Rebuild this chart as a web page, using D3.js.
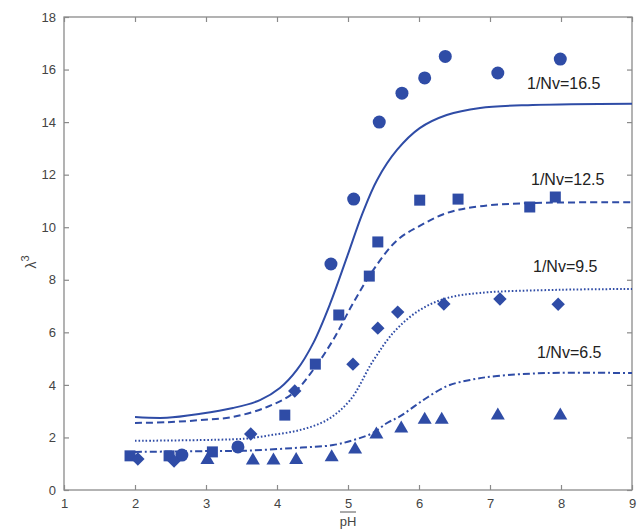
<!DOCTYPE html>
<html><head><meta charset="utf-8">
<script src="https://cdn.jsdelivr.net/npm/d3@7"></script>
<style>
body{margin:0;background:#fff;}
svg text{font-family:"Liberation Sans",Arial,sans-serif;}
</style></head>
<body><svg id="c" width="643" height="530"></svg>
<script>
// ---- data ----
const xTicks = [1,2,3,4,5,6,7,8,9];
const yTicks = [0,2,4,6,8,10,12,14,16,18];
const seriesLabels = ["1/Nv=16.5","1/Nv=12.5","1/Nv=9.5","1/Nv=6.5"];

const pts165 = [[2.66,1.33],[3.45,1.64],[4.76,8.6],[5.08,11.07],[5.44,14.0],[5.76,15.1],[6.08,15.68],[6.37,16.5],[7.11,15.87],[7.99,16.4]];
const pts125 = [[1.93,1.3],[2.48,1.3],[3.09,1.45],[4.11,2.85],[4.54,4.79],[4.87,6.66],[5.3,8.14],[5.42,9.44],[6.01,11.03],[6.55,11.07],[7.56,10.77],[7.92,11.15]];
const pts95  = [[2.04,1.18],[2.55,1.1],[3.63,2.13],[4.25,3.77],[5.07,4.79],[5.42,6.16],[5.7,6.77],[6.35,7.08],[7.14,7.27],[7.96,7.07]];
const pts65  = [[3.02,1.2],[3.66,1.18],[3.95,1.18],[4.27,1.2],[4.77,1.3],[5.1,1.6],[5.4,2.17],[5.75,2.4],[6.08,2.73],[6.32,2.73],[7.11,2.89],[7.99,2.89]];

const fit165 = [[2,2.78],[2.45,2.75],[2.92,2.9],[3.38,3.12],[3.76,3.42],[4.04,3.88],[4.28,4.57],[4.51,5.59],[4.75,7.1],[4.99,8.9],[5.2,10.5],[5.41,11.8],[5.69,12.94],[6.01,13.77],[6.39,14.27],[6.86,14.54],[7.6,14.65],[9,14.7]];
const fit125 = [[2,2.55],[2.45,2.58],[2.92,2.66],[3.38,2.78],[3.86,3.16],[4.23,3.69],[4.51,4.57],[4.79,5.71],[5.07,7.1],[5.35,8.35],[5.69,9.5],[6.01,10.05],[6.39,10.54],[6.86,10.8],[7.6,10.92],[9,10.95]];
const fit95  = [[2,1.87],[2.92,1.9],[3.38,1.93],[3.62,1.97],[3.94,2.1],[4.32,2.28],[4.7,2.66],[5.03,3.42],[5.35,4.9],[5.66,6.05],[6.01,6.85],[6.39,7.3],[6.86,7.5],[8,7.62],[9,7.65]];
const fit65  = [[2,1.45],[3,1.48],[3.6,1.5],[4.25,1.6],[4.79,1.71],[5.1,1.92],[5.35,2.17],[5.55,2.55],[5.73,2.8],[6.06,3.42],[6.39,3.95],[6.72,4.19],[7.1,4.34],[7.8,4.45],[9,4.45]];

// ---- layout ----
const col = "#2f4ca6";
const axisCol = "#8a8a8a";
const svg = d3.select("#c");
const L=64, R=632, T=17, B=490;
const x = d3.scaleLinear().domain([1,9]).range([L,R]);
const y = d3.scaleLinear().domain([0,18]).range([B,T]);

svg.append("rect").attr("x",L).attr("y",T).attr("width",R-L).attr("height",B-T)
  .attr("fill","none").attr("stroke",axisCol).attr("stroke-width",1.3);

const tl=5;
const gx = svg.append("g").attr("transform",`translate(0,${B})`)
  .call(d3.axisBottom(x).tickValues(xTicks).tickFormat(d3.format("d")).tickSizeInner(-tl).tickSizeOuter(0).tickPadding(9));
const gxt = svg.append("g").attr("transform",`translate(0,${T})`)
  .call(d3.axisTop(x).tickValues(xTicks).tickFormat("").tickSizeInner(-tl).tickSizeOuter(0));
const gy = svg.append("g").attr("transform",`translate(${L},0)`)
  .call(d3.axisLeft(y).tickValues(yTicks).tickFormat(d3.format("d")).tickSizeInner(-tl).tickSizeOuter(0).tickPadding(8));
const gyr = svg.append("g").attr("transform",`translate(${R},0)`)
  .call(d3.axisRight(y).tickValues(yTicks).tickFormat("").tickSizeInner(-tl).tickSizeOuter(0));
[gx,gxt,gy,gyr].forEach(g=>{
  g.select(".domain").remove();
  g.selectAll("line").attr("stroke",axisCol).attr("stroke-width",1.2);
  g.selectAll("text").attr("fill","#444").style("font-size","13px").style("font-family","'Liberation Sans',Arial,sans-serif");
});

svg.append("text").attr("x",x(5)).attr("y",526).attr("text-anchor","middle")
  .attr("fill","#444").style("font-size","13px").text("pH");
svg.append("line").attr("x1",x(5)-8).attr("x2",x(5)+8).attr("y1",512).attr("y2",512)
  .attr("stroke","#555").attr("stroke-width",1);
const yl = svg.append("text").attr("transform",`translate(36,${262}) rotate(-90)`)
  .attr("text-anchor","middle").attr("fill","#444").style("font-size","14px");
yl.append("tspan").text("λ");
yl.append("tspan").attr("dy",-7).style("font-size","11px").text("3");

const line = d3.line().x(d=>x(d[0])).y(d=>y(d[1])).curve(d3.curveCatmullRom.alpha(0.5));
const fits = [
  {d:fit165, dash:null},
  {d:fit125, dash:"7,4"},
  {d:fit95,  dash:"1.6,2"},
  {d:fit65,  dash:"7,3,2,3"}
];
fits.forEach(f=>{
  svg.append("path").attr("d",line(f.d)).attr("fill","none").attr("stroke",col)
    .attr("stroke-width",2).attr("stroke-dasharray",f.dash);
});

const g = svg.append("g").attr("fill",col);
g.selectAll(".c").data(pts165).join("circle").attr("cx",d=>x(d[0])).attr("cy",d=>y(d[1])).attr("r",6.5);
g.selectAll(".s").data(pts125).join("rect").attr("x",d=>x(d[0])-5.5).attr("y",d=>y(d[1])-5.5).attr("width",11).attr("height",11);
g.selectAll(".d").data(pts95).join("path").attr("d",d3.symbol().type(d3.symbolSquare).size(90)())
  .attr("transform",d=>`translate(${x(d[0])},${y(d[1])}) rotate(45)`);
g.selectAll(".t").data(pts65).join("path").attr("d","M0,-6.5L7,5.5L-7,5.5Z")
  .attr("transform",d=>`translate(${x(d[0])},${y(d[1])})`);

const labPos = [[527,89],[531,185],[533,272],[537,358]];
seriesLabels.forEach((t,i)=>{
  svg.append("text").attr("x",labPos[i][0]).attr("y",labPos[i][1]).attr("fill","#222")
    .style("font-size","16px").text(t);
});
</script></body></html>
